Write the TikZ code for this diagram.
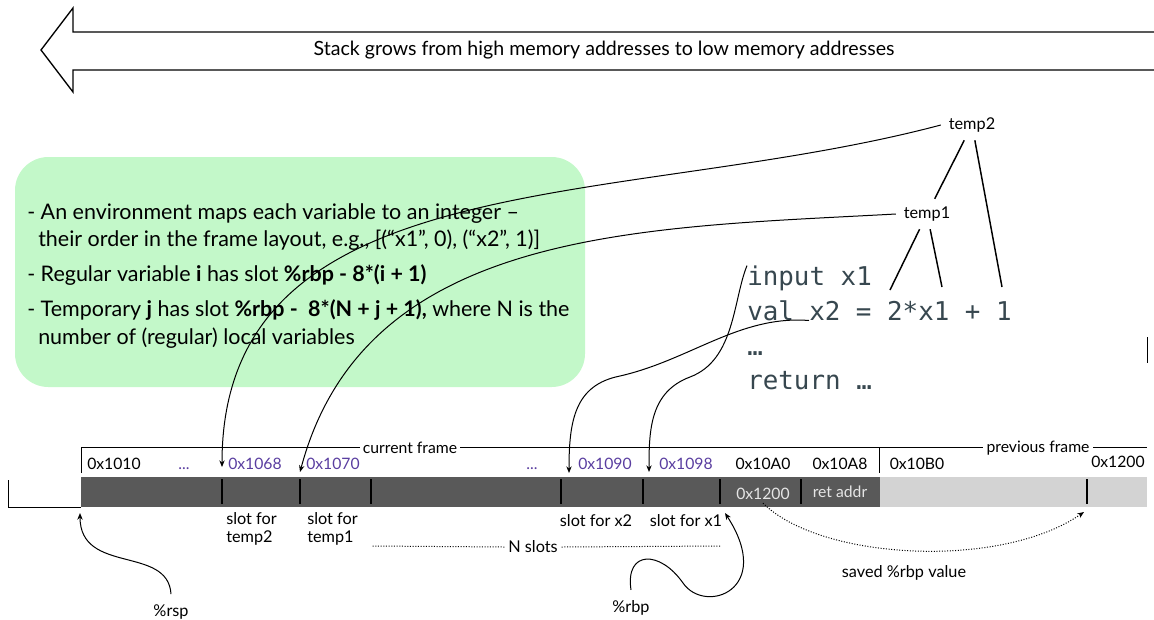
\documentclass[tikz,border=0pt]{standalone}
\usepackage{fontspec}
\setmainfont{Lato}
\setmonofont{DejaVu Sans Mono}
\usetikzlibrary{arrows.meta}

\definecolor{notegreen}{RGB}{195,248,201}
\definecolor{framedark}{RGB}{89,89,89}
\definecolor{framelight}{RGB}{211,211,211}
\definecolor{slotpurple}{RGB}{90,62,160}
\definecolor{codeslate}{RGB}{55,71,79}

\tikzset{
  addr/.style={anchor=base, inner sep=0pt, font=\fontsize{11.8}{13}\selectfont},
  usedaddr/.style={addr, text=slotpurple},
  lbl/.style={inner sep=0pt, font=\fontsize{12.2}{14}\selectfont},
  treelbl/.style={lbl, outer sep=6pt},
  reglbl/.style={lbl, outer sep=8pt},
  note/.style={anchor=base west, inner sep=0pt, font=\fontsize{16.1}{18}\selectfont},
  code/.style={anchor=base west, inner sep=0pt, text=codeslate, font=\ttfamily\fontsize{19.4}{22}\selectfont},
  link/.style={-{Stealth[length=5pt,width=4pt]}, line width=0.75pt},
  savedlink/.style={link, dash pattern=on 0.75pt off 1.25pt},
  slotsep/.style={line width=1pt},
  treeedge/.style={line width=1.1pt},
}

\begin{document}
\begin{tikzpicture}[x=0.75pt,y=0.75pt,yscale=-1,xscale=1]
\useasboundingbox (0,0) rectangle (1154,619);

% growth direction arrow
\draw [line width=1pt] (1154,32) -- (73,32) -- (73,8) -- (41,50) -- (73,92) -- (73,70) -- (1154,70);
\node [font=\fontsize{14.7}{16}\selectfont] (grow) at (604,50) {Stack grows from high memory addresses to low memory addresses};

% environment notes
\fill [notegreen, rounded corners=25pt] (15,157) rectangle (585,387);
\node [note] (l1) at (27,219.5) {- An environment maps each variable to an integer –};
\node [note] (l2) at (38,246.5) {their order in the frame layout, e.g., [(“x1”, 0), (“x2”, 1)]};
\node [note] (l3) at (27,281.5) {- Regular variable \textbf{i} has slot \textbf{\%rbp - 8*(i + 1)}};
\node [note] (l4) at (27,316.5) {- Temporary \textbf{j} has slot \textbf{\%rbp -\ \ 8*(N + j + 1),} where N is the};
\node [note] (l5) at (38,344) {number of (regular) local variables};

% program
\node [code] (in1) at (747,285.5) {input x1};
\node [code] (val) at (747,320.5) {val};
\node [code] (x2) at (809,320.5) {x2 = 2*x1 + 1};
\node [code] (skip) at (747,355) {…};
\node [code] (ret) at (747,389.5) {return …};
\draw [line width=0.75pt] (1147,337) -- (1147,363);

% expression tree
\node [treelbl] (t2) at (972,125) {temp2};
\node [treelbl] (t1) at (927,214) {temp1};
\coordinate (lit2) at (890,290);
\coordinate (litx) at (942,287);
\coordinate (lit1) at (1002,287);
\draw [treeedge] (t2) -- (t1);
\draw [treeedge] (t2) -- (lit1);
\draw [treeedge] (t1) -- (lit2);
\draw [treeedge] (t1) -- (litx);

% frame bracket
\draw [line width=0.75pt] (81,473) -- (81,447) -- (1147,447);
\draw [line width=0.75pt] (879,447) -- (879,473);
\node [addr, anchor=center, fill=white, inner sep=2.5pt] (cur) at (410,448) {current frame};
\node [addr, anchor=center, fill=white, inner sep=2.5pt] (prev) at (1038,448) {previous frame};

% addresses
\node [addr] (a10) at (114,469) {0x1010};
\node [usedaddr] (d1) at (184,469) {...};
\node [usedaddr] (a68) at (255,469) {0x1068};
\node [usedaddr] (a70) at (333,469) {0x1070};
\node [usedaddr] (d2) at (532,469) {...};
\node [usedaddr] (a90) at (605,469) {0x1090};
\node [usedaddr] (a98) at (686,469) {0x1098};
\node [addr] (aa0) at (763,469) {0x10A0};
\node [addr] (aa8) at (840,469) {0x10A8};
\node [addr] (ab0) at (917,469) {0x10B0};
\node [addr] (a200) at (1118,467.5) {0x1200};

% stack memory
\draw [line width=0.75pt] (8,480) -- (8,507) -- (81,507);
\fill [framedark] (81,477) rectangle (880,507);
\fill [framelight] (880,477) rectangle (1147,507);
\foreach \x in {222,300,371,561,643,720,801,1087}
  \draw [slotsep] (\x,479) -- (\x,504);
\node [addr, text=white!90!black, outer sep=3pt] (saved) at (763,499) {0x1200};
\node [addr, text=white!90!black] (ret) at (840,497) {ret addr};

% slot names
\node [lbl, align=left, anchor=north west] (s68) at (226,512) {slot for\\temp2};
\node [lbl, align=left, anchor=north west] (s70) at (307,512) {slot for\\temp1};
\node [lbl] (s90) at (596,521) {slot for x2};
\node [lbl] (s98) at (686,521) {slot for x1};
\node [lbl, outer sep=3pt] (nsl) at (533,547) {N slots};
\coordinate (nL) at (371,546);
\coordinate (nR) at (720,546);
\draw [dash pattern=on 0.75pt off 1.25pt, line width=0.75pt] (nsl.west) -- (nL);
\draw [dash pattern=on 0.75pt off 1.25pt, line width=0.75pt] (nsl.east) -- (nR);

% registers
\node [reglbl] (rsp) at (171,612) {\%rsp};
\node [reglbl] (rbp) at (631,608) {\%rbp};
\node [lbl] (svd) at (904,573) {saved \%rbp value};

% arrow targets
\coordinate (slot68) at (222,467);
\coordinate (slot70) at (300,472);
\coordinate (slot90) at (569,473);
\coordinate (slot98) at (649,472);
\coordinate (rspAt) at (80,513);
\coordinate (rbpAt) at (725,513);
\coordinate (prevAt) at (1084,512);

% temporaries and variables to their slots
\draw [link] (t2.west) .. controls (620,210) and (222,160) .. (slot68);
\draw [link] (t1.west) .. controls (640,228) and (365,228) .. (slot70);
\draw [link] (x2.base west) .. controls (740,315) and (690,360) .. (620,376) .. controls (575,385) and (569,420) .. (slot90);
\draw [link] (in1.north west) .. controls (733,300) and (735,360) .. (690,377) .. controls (650,392) and (649,430) .. (slot98);

% stack and base pointers
\draw [link] (rsp.north) .. controls (168,545) and (80,575) .. (rspAt);
\draw [link] (rbp.north) .. controls (625,550) and (660,550) .. (683,583) .. controls (705,615) and (775,590) .. (rbpAt);
\draw [savedlink] (saved.south) .. controls (820,560) and (1000,570) .. (prevAt);

\end{tikzpicture}
\end{document}
